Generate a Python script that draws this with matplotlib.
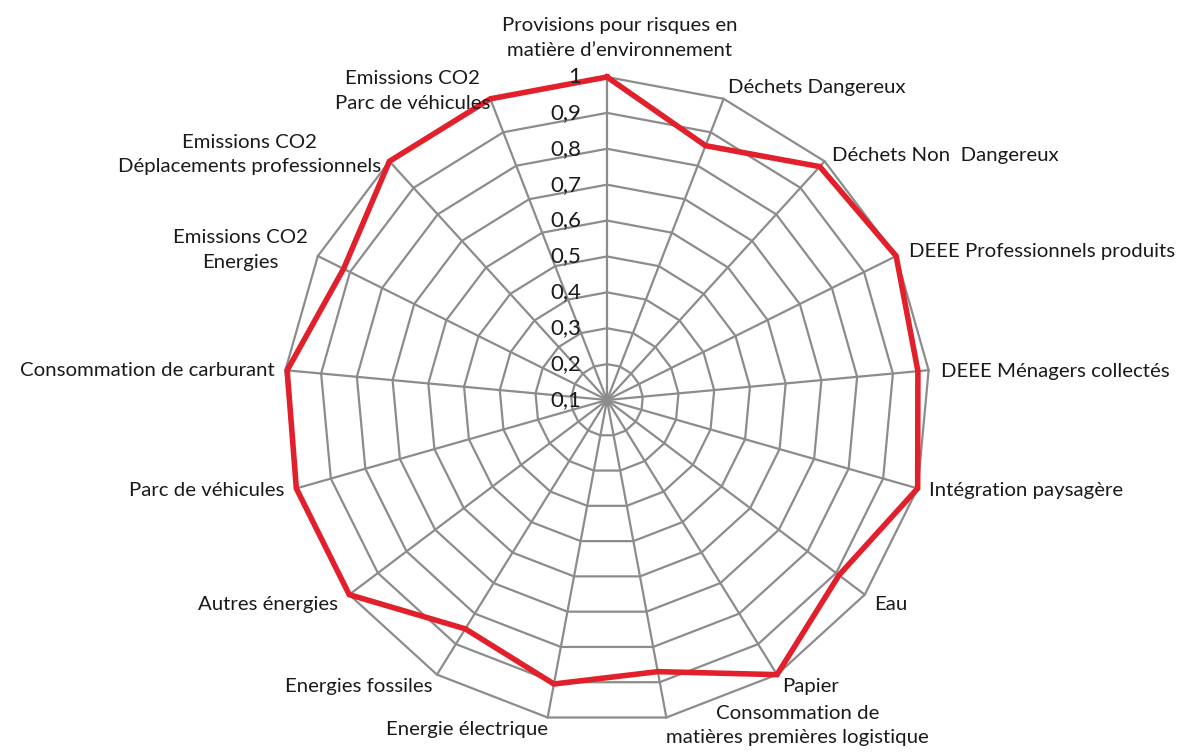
import numpy as np
import matplotlib
matplotlib.use("Agg")
import matplotlib.pyplot as plt

# Categories, clockwise from the top
categories = [
    "Provisions pour risques en\nmatière d\u2019environnement",
    "Déchets Dangereux",
    "Déchets Non  Dangereux",
    "DEEE Professionnels produits",
    "DEEE Ménagers collectés",
    "Intégration paysagère",
    "Eau",
    "Papier",
    "Consommation de\nmatières premières logistique",
    "Energie électrique",
    "Energies fossiles",
    "Autres énergies",
    "Parc de véhicules",
    "Consommation de carburant",
    "Emissions CO2\nEnergies",
    "Emissions CO2\nDéplacements professionnels",
    "Emissions CO2\nParc de véhicules",
]
values = [1.0, 0.86, 0.98, 1.0, 0.97, 1.0, 0.91, 1.0, 0.87, 0.905,
          0.85, 1.0, 1.0, 0.995, 0.92, 1.0, 1.0]
ticks = [0.1, 0.2, 0.3, 0.4, 0.5, 0.6, 0.7, 0.8, 0.9, 1.0]
tick_labels = ["0,1", "0,2", "0,3", "0,4", "0,5", "0,6", "0,7", "0,8", "0,9", "1"]

# label nudges in pixels (dx, dy up), one per category
label_offsets = [(13, 18), (4, 3), (7, -3), (13, 5), (12, -1), (11, -2),
                 (9, -1), (5, -3), (0, 13), (0, -3), (-4, -3), (-11, -1),
                 (-12, -2), (-11, 0), (-10, 6), (-8, -14), (0, -13)]

RMIN, RMAX = 0.1, 1.0
GRID = "#8c8c8c"
RED = "#e2202b"
FONT = "Lato"

W, H = 1177, 753
CX, CY, R = 607, 400, 323  # centre and radius in pixels

fig = plt.figure(figsize=(W / 100, H / 100), dpi=100)
ax = fig.add_axes([0, 0, 1, 1])
ax.set_xlim(-CX / R, (W - CX) / R)
ax.set_ylim(-(H - CY) / R, CY / R)
ax.axis("off")

n = len(categories)
ang = np.pi / 2 - 2 * np.pi * np.arange(n) / n
ca, sa = np.cos(ang), np.sin(ang)


def rad(v):
    return (np.asarray(v) - RMIN) / (RMAX - RMIN)


# polygon rings
for t in ticks[1:]:
    r = rad(t)
    ax.plot(np.append(ca, ca[0]) * r, np.append(sa, sa[0]) * r,
            color=GRID, lw=1.6, zorder=1)
# spokes
for i in range(n):
    ax.plot([0, ca[i]], [0, sa[i]], color=GRID, lw=1.6, zorder=1)

# data
r = rad(values)
ax.plot(np.append(ca * r, ca[0] * r[0]), np.append(sa * r, sa[0] * r[0]),
        color=RED, lw=4, solid_joinstyle="miter", zorder=3)

# radial tick labels
for t, lab in zip(ticks, tick_labels):
    ax.text(-26 / R, rad(t), lab, ha="right", va="center",
            fontsize=16, family=FONT, color="#1a1a1a", zorder=4)

# category labels
for i, lab in enumerate(categories):
    c, s = ca[i], sa[i]
    ha = "left" if c > 0.05 else ("right" if c < -0.05 else "center")
    va = "bottom" if s > 0.5 else ("top" if s < -0.5 else "center")
    dx, dy = label_offsets[i]
    ax.text(c + dx / R, s + dy / R, lab, ha=ha, va=va, multialignment="center",
            fontsize=14.7, family=FONT, color="#1a1a1a", linespacing=1.55)

fig.savefig("out.png", dpi=100)
